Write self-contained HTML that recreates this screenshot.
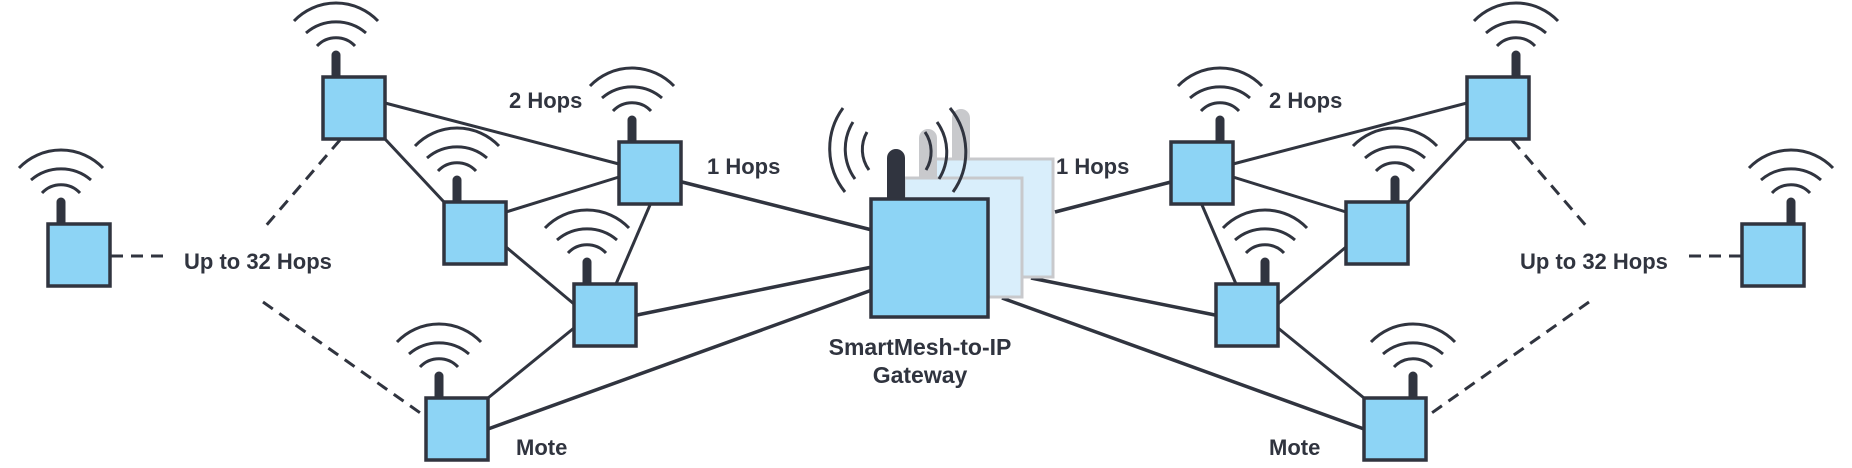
<!DOCTYPE html>
<html><head><meta charset="utf-8"><style>
html,body{margin:0;padding:0;background:#fff;}
svg{display:block}
text{font-family:"Liberation Sans",sans-serif;font-weight:bold;fill:#30343f;font-size:22px}
</style></head><body>
<svg width="1852" height="468" viewBox="0 0 1852 468" xmlns="http://www.w3.org/2000/svg">
<defs>
<g id="mote">
  <path d="M-29,-56 A58 58 0 0 1 55,-56" fill="none" stroke="#30343f" stroke-width="3"/>
  <path d="M-17,-44 A46 46 0 0 1 43,-44" fill="none" stroke="#30343f" stroke-width="3"/>
  <path d="M-6,-31 A26 26 0 0 1 32,-31" fill="none" stroke="#30343f" stroke-width="3"/>
  <line x1="13" y1="-22" x2="13" y2="0" stroke="#30343f" stroke-width="9" stroke-linecap="round"/>
  <rect x="0" y="0" width="62" height="62" fill="#8dd4f5" stroke="#30343f" stroke-width="3.5"/>
</g>
<g id="half" stroke="#30343f" fill="none">
  <g stroke-width="3">
    <line x1="385" y1="103" x2="619" y2="164"/>
    <line x1="385" y1="139" x2="444" y2="202"/>
    <line x1="506" y1="212" x2="619" y2="177"/>
    <line x1="506" y1="247" x2="574" y2="304"/>
    <line x1="650" y1="205" x2="616" y2="284"/>
    <line x1="488" y1="398" x2="574" y2="328"/>
  </g>
  <g stroke-width="3" stroke-dasharray="12,8">
    <line x1="111" y1="256" x2="164" y2="256"/>
    <line x1="340" y1="140" x2="264" y2="228"/>
    <line x1="263" y1="302" x2="426" y2="417"/>
  </g>
  <use href="#mote" x="48" y="224"/>
  <use href="#mote" x="323" y="77"/>
  <use href="#mote" x="444" y="202"/>
  <use href="#mote" x="619" y="142"/>
  <use href="#mote" x="574" y="284"/>
  <use href="#mote" x="426" y="398"/>
</g>
</defs>

<g stroke="#30343f" stroke-width="3.5" fill="none">
  <line x1="682" y1="182" x2="872" y2="230"/>
  <line x1="637" y1="315" x2="872" y2="267"/>
  <line x1="488" y1="429" x2="872" y2="290"/>
  <line x1="1055" y1="212" x2="1171" y2="182"/>
  <line x1="1031" y1="278" x2="1215" y2="315"/>
  <line x1="1002" y1="298" x2="1364" y2="429"/>
</g>

<use href="#half"/>
<g transform="translate(1852,0) scale(-1,1)"><use href="#half"/></g>

<g>
  <rect x="952" y="109" width="18" height="60" rx="9" fill="#c8c9cc"/>
  <rect x="935" y="159" width="118" height="118" fill="#d9eefb" stroke="#c8c9cc" stroke-width="3"/>
  <rect x="919" y="129" width="18" height="60" rx="9" fill="#c8c9cc"/>
  <rect x="904" y="178" width="118" height="119" fill="#d9eefb" stroke="#c8c9cc" stroke-width="3"/>
  <g fill="none" stroke="#30343f" stroke-width="3">
    <path d="M843,108 A69 69 0 0 0 845,192"/>
    <path d="M853,122 A51 51 0 0 0 855,179"/>
    <path d="M867,132 A35 35 0 0 0 869,170"/>
    <path d="M950,108 A69 69 0 0 1 953,192"/>
    <path d="M937,122 A51 51 0 0 1 939,179"/>
    <path d="M925,132 A35 35 0 0 1 926,170"/>
  </g>
  <line x1="896" y1="158" x2="896" y2="200" stroke="#30343f" stroke-width="18" stroke-linecap="round"/>
  <rect x="871" y="199" width="117" height="118" fill="#8dd4f5" stroke="#30343f" stroke-width="3.5"/>
</g>

<text x="509" y="108">2 Hops</text>
<text x="707" y="174">1 Hops</text>
<text x="184" y="269">Up to 32 Hops</text>
<text x="516" y="455">Mote</text>
<text x="1269" y="108">2 Hops</text>
<text x="1056" y="174">1 Hops</text>
<text x="1520" y="269">Up to 32 Hops</text>
<text x="1269" y="455">Mote</text>
<text x="920" y="355" text-anchor="middle" style="font-size:23px">SmartMesh-to-IP</text>
<text x="920" y="383" text-anchor="middle" style="font-size:23px">Gateway</text>
</svg>
</body></html>
